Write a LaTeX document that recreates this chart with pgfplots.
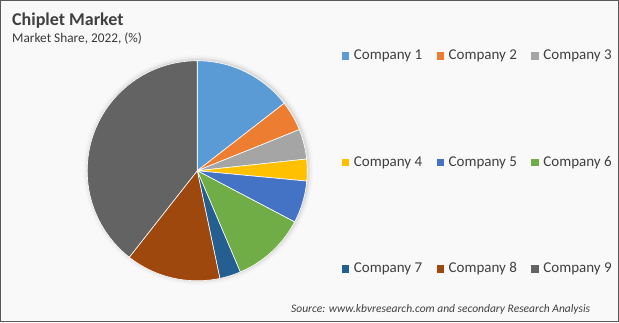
\documentclass[border=0pt]{standalone}
\usepackage{pgfplots}
\pgfplotsset{compat=1.18}
\usepackage{pgfplotstable}
\usepackage{fontspec}
\setmainfont{Carlito}
\definecolor{c1}{HTML}{5B9BD5}
\definecolor{c2}{HTML}{ED7D31}
\definecolor{c3}{HTML}{A5A5A5}
\definecolor{c4}{HTML}{FFC000}
\definecolor{c5}{HTML}{4472C4}
\definecolor{c6}{HTML}{70AD47}
\definecolor{c7}{HTML}{255E91}
\definecolor{c8}{HTML}{9E480E}
\definecolor{c9}{HTML}{636363}
\definecolor{bgc}{HTML}{F9F9F9}
\definecolor{txt}{HTML}{404040}

\pgfplotstableread{
company share
1 14.5
2 4.4
3 4.4
4 3.2
5 6.2
6 10.9
7 3.1
8 13.9
9 39.4
}\piedata

\newcommand\pieslice[3]{%
  \edef\pietmp{\noexpand\addplot[fill=#2, draw=white, line width=0.6bp, samples=90,
    domain=\csname pieB#1\endcsname:\csname pieA#1\endcsname, variable=\noexpand\t]}%
  \pietmp ({cos(\t)},{sin(\t)}) -- (axis cs:0,0) -- cycle;
  \addlegendentry{#3}%
}

\begin{document}
\begin{tikzpicture}[x=1bp,y=1bp]
\fill[bgc] (0,0) rectangle (619,322);
\draw[black!65, line width=1bp] (0.5,0.5) rectangle (618.5,321.5);

\pgfmathsetmacro{\cum}{0}
\pgfplotsforeachungrouped \i in {0,...,8}{%
  \pgfplotstablegetelem{\i}{share}\of\piedata
  \pgfmathsetmacro{\angA}{90-3.6*\cum}%
  \pgfmathsetmacro{\cum}{\cum+\pgfplotsretval}%
  \pgfmathsetmacro{\angB}{90-3.6*\cum}%
  \expandafter\xdef\csname pieA\i\endcsname{\angA}%
  \expandafter\xdef\csname pieB\i\endcsname{\angB}%
}

\node[anchor=base west, inner sep=0, text=txt, font=\fontsize{18bp}{20bp}\selectfont\bfseries] at (12,296.3) {Chiplet Market};
\node[anchor=base west, inner sep=0, text=txt!90!black, font=\fontsize{13.3bp}{15bp}\selectfont] at (12,279.3) {Market Share, 2022, (\%)};
\node[anchor=base west, inner sep=0, text=txt, font=\fontsize{11.5bp}{13bp}\selectfont\itshape] at (291,10) {Source: www.kbvresearch.com and secondary Research Analysis};

\fill[black, opacity=0.015] (198.3,152) circle[radius=115];
\fill[black, opacity=0.025] (198.3,152) circle[radius=113.5];
\fill[black, opacity=0.035] (198.3,152) circle[radius=112];
\fill[black, opacity=0.045] (198.3,152) circle[radius=111];

\begin{axis}[
  at={(79.3,37.5)}, anchor=south west,
  scale only axis, width=220bp, height=220bp,
  xmin=-1, xmax=1, ymin=-1, ymax=1,
  hide axis, clip=false, no markers,
  legend columns=3, legend cell align=left,
  legend image code/.code={\fill[#1,draw=none] (0bp,-3.75bp) rectangle (7.5bp,3.75bp);},
  legend style={draw=none, fill=none, inner sep=0pt, outer sep=0pt,
    at={(axis description cs:1.1577,1.0545)}, anchor=north west,
    font=\fontsize{15bp}{18bp}\selectfont, text=txt,
    nodes={inner sep=0pt, text height=11bp, text depth=3bp},
    row sep=92.5bp,
    /tikz/every odd column/.append style={column sep=4.5bp},
    /tikz/every even column/.append style={column sep=14.4bp}},
]
\pieslice{0}{c1}{Company 1}
\pieslice{1}{c2}{Company 2}
\pieslice{2}{c3}{Company 3}
\pieslice{3}{c4}{Company 4}
\pieslice{4}{c5}{Company 5}
\pieslice{5}{c6}{Company 6}
\pieslice{6}{c7}{Company 7}
\pieslice{7}{c8}{Company 8}
\pieslice{8}{c9}{Company 9}
\end{axis}
\pgfresetboundingbox
\useasboundingbox (0,0) rectangle (619,322);
\end{tikzpicture}
\end{document}
